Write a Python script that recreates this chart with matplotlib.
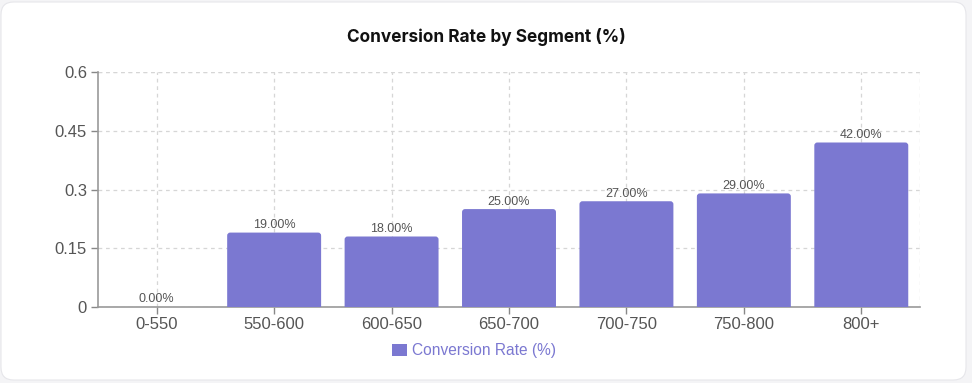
import matplotlib
matplotlib.use("Agg")
import matplotlib.pyplot as plt
from matplotlib.patches import FancyBboxPatch, Patch

categories = ["0-550", "550-600", "600-650", "650-700", "700-750", "750-800", "800+"]
values = [0.0, 0.19, 0.18, 0.25, 0.27, 0.29, 0.42]
yticks = [0, 0.15, 0.3, 0.45, 0.6]
ytick_labels = ["0", "0.15", "0.3", "0.45", "0.6"]
title = "Conversion Rate by Segment (%)"
series_name = "Conversion Rate (%)"

bar_color = "#7b78d1"
plt.rcParams['font.family'] = ['Liberation Sans', 'DejaVu Sans']

W, H = 972, 383
fig = plt.figure(figsize=(W / 100, H / 100), dpi=100)
fig.patch.set_facecolor("#f4f4f6")
card = FancyBboxPatch((1 / W, 3 / H), 965 / W, 378 / H, transform=fig.transFigure,
                      boxstyle="round,pad=0,rounding_size=0.013",
                      mutation_aspect=W / H,
                      facecolor="white", edgecolor="#e6e6ea", linewidth=0.8, zorder=-5)
fig.patches.append(card)

ax_left, ax_bottom, ax_w, ax_h = 98 / W, (H - 307) / H, 822 / W, 235 / H
ax = fig.add_axes([ax_left, ax_bottom, ax_w, ax_h])
ax.set_zorder(2)
ax.set_facecolor("none")
x = list(range(len(categories)))
ax.set_xlim(-0.5, len(categories) - 0.5)
ax.set_ylim(0, 0.6)

bars = ax.bar(x, values, width=0.8, color=bar_color, zorder=3)
# rounded top corners: replace each bar with a rounded box of same geometry
px_per_x = 822 / len(categories)
px_per_y = 235 / 0.6
r_px = 3.0
rx = r_px / px_per_x
ry = r_px / px_per_y
for b in bars:
    b.set_visible(False)
    h = b.get_height()
    if h <= 0:
        continue
    fb = FancyBboxPatch((b.get_x(), -ry), b.get_width(), h + ry,
                        boxstyle=f"round,pad=0,rounding_size={rx}",
                        mutation_aspect=ry / rx,
                        facecolor=bar_color, edgecolor="none", zorder=3)
    ax.add_patch(fb)
    fb.set_clip_path(ax.patch)

for xi, v in zip(x, values):
    ax.text(xi, v + 0.004, f"{v*100:.2f}%", ha="center", va="bottom",
            fontsize=9, color="#555555", zorder=4)

ax.set_yticks(yticks)
ax.set_yticklabels(ytick_labels)
ax.set_xticks(x)
ax.set_xticklabels(categories)
ax.tick_params(axis="both", labelsize=12, length=5, width=1, colors="#888888", labelcolor="#555555")
ax.tick_params(axis="x", pad=2)
ax.tick_params(axis="y", pad=3)

grid_kw = dict(color="#d6d6d6", linestyle=(0, (3, 3)), linewidth=0.9, zorder=0)
ax.grid(True, **grid_kw)
for sp in ["top", "right"]:
    ax.spines[sp].set_visible(False)
for sp in ["left", "bottom"]:
    ax.spines[sp].set_color("#999999")
    ax.spines[sp].set_linewidth(1.2)
ax.axvline(len(categories) - 0.5, **grid_kw)
ax.axhline(0.6, **grid_kw)

fig.text(0.5, 1 - 37 / H, title, ha="center", va="center", fontsize=12.4,
         fontweight="bold", color="#111111", family=["Inter", "DejaVu Sans"])

handle = Patch(facecolor=bar_color, edgecolor="none")
leg = fig.legend([handle], [series_name], loc="center", bbox_to_anchor=(474 / W, 1 - 351 / H),
                 frameon=False, fontsize=11.2, handlelength=1.0, handleheight=0.8,
                 handletextpad=0.3)
for t in leg.get_texts():
    t.set_color(bar_color)

fig.savefig("out.png", dpi=100)
